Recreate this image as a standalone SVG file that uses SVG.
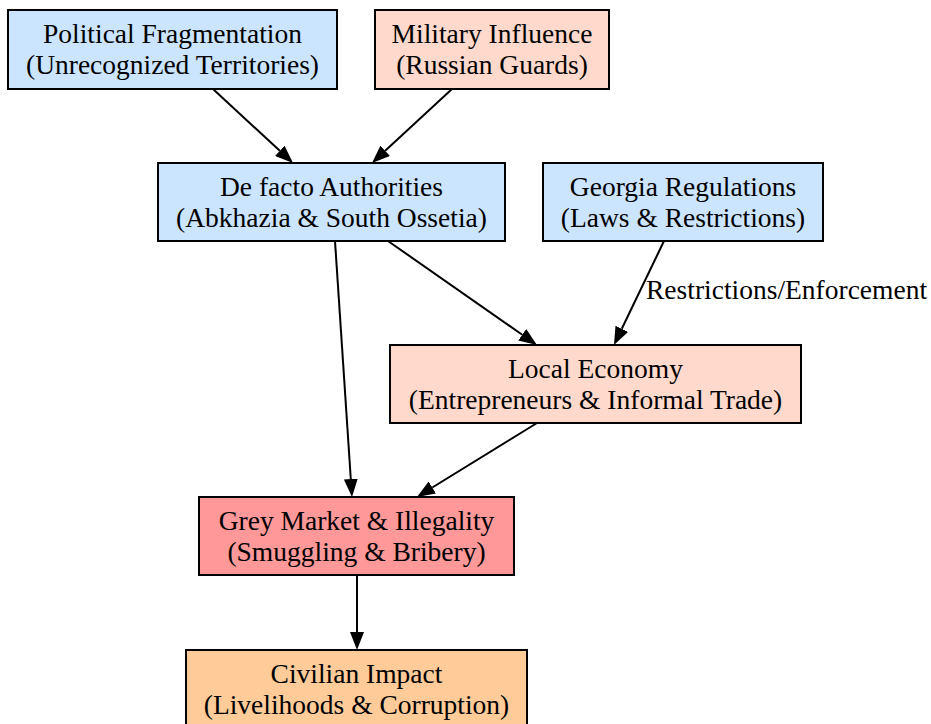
<svg xmlns="http://www.w3.org/2000/svg" width="931" height="724" viewBox="0 0 931 724">
<defs>
<style>
.box{stroke:#000;stroke-width:2}
.blue{fill:#cce5ff}
.peach{fill:#ffdacc}
.red{fill:#ff9999}
.orange{fill:#ffcc99}
text{font-family:"Liberation Serif","Times New Roman",serif;font-size:27.5px;fill:#000}
.c{text-anchor:middle}
.edge{fill:none;stroke:#000;stroke-width:2}
</style>
<marker id="arr" markerUnits="userSpaceOnUse" markerWidth="18" markerHeight="14" viewBox="0 0 18 14" refX="0" refY="7" orient="auto">
<polygon points="0,0 18,7 0,14" fill="#000"/>
</marker>
</defs>
<rect width="931" height="724" fill="#fff"/>
<g id="edges">
<path class="edge" d="M213,89 L279.8,150.8" marker-end="url(#arr)"/>
<path class="edge" d="M452,89 L385.2,150.8" marker-end="url(#arr)"/>
<path class="edge" d="M388,241 L522.2,334.7" marker-end="url(#arr)"/>
<path class="edge" d="M664,241 L621.8,328.8" marker-end="url(#arr)"/>
<path class="edge" d="M335,241 L350.8,479" marker-end="url(#arr)"/>
<path class="edge" d="M537,423 L432.3,487.5" marker-end="url(#arr)"/>
<path class="edge" d="M357,575 L357,632" marker-end="url(#arr)"/>
<text x="646" y="299">Restrictions/Enforcement</text>
</g>
<g id="political">
<rect class="box blue" x="8" y="10" width="329" height="79"/>
<text class="c" x="172.5" y="43">Political Fragmentation</text>
<text class="c" x="172.5" y="74">(Unrecognized Territories)</text>
</g>
<g id="military">
<rect class="box peach" x="375" y="10" width="234" height="79"/>
<text class="c" x="492" y="43">Military Influence</text>
<text class="c" x="492" y="74">(Russian Guards)</text>
</g>
<g id="defacto">
<rect class="box blue" x="158" y="163" width="347" height="78"/>
<text class="c" x="331.5" y="196">De facto Authorities</text>
<text class="c" x="331.5" y="227">(Abkhazia &amp; South Ossetia)</text>
</g>
<g id="georgia">
<rect class="box blue" x="543" y="163" width="280" height="78"/>
<text class="c" x="683" y="196">Georgia Regulations</text>
<text class="c" x="683" y="227">(Laws &amp; Restrictions)</text>
</g>
<g id="economy">
<rect class="box peach" x="390" y="345" width="411" height="78"/>
<text class="c" x="595.5" y="378">Local Economy</text>
<text class="c" x="595.5" y="409">(Entrepreneurs &amp; Informal Trade)</text>
</g>
<g id="grey">
<rect class="box red" x="199" y="497" width="315" height="78"/>
<text class="c" x="356.5" y="530">Grey Market &amp; Illegality</text>
<text class="c" x="356.5" y="561">(Smuggling &amp; Bribery)</text>
</g>
<g id="civilian">
<rect class="box orange" x="186" y="650" width="341" height="80"/>
<text class="c" x="356.5" y="683">Civilian Impact</text>
<text class="c" x="356.5" y="714">(Livelihoods &amp; Corruption)</text>
</g>
</svg>
